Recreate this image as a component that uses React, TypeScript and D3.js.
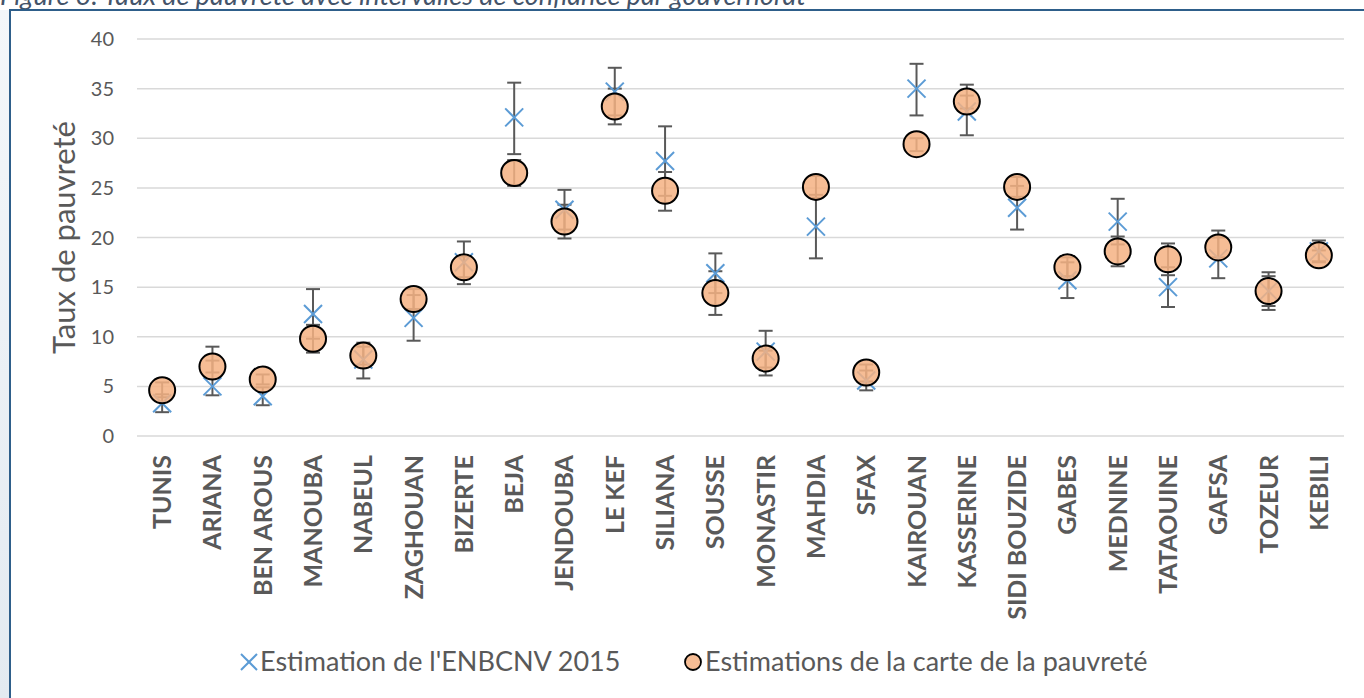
import React from 'react';
import * as d3 from 'd3';

const governorates = [
  'TUNIS', 'ARIANA', 'BEN AROUS', 'MANOUBA', 'NABEUL', 'ZAGHOUAN', 'BIZERTE', 'BEJA',
  'JENDOUBA', 'LE KEF', 'SILIANA', 'SOUSSE', 'MONASTIR', 'MAHDIA', 'SFAX', 'KAIROUAN',
  'KASSERINE', 'SIDI BOUZIDE', 'GABES', 'MEDNINE', 'TATAOUINE', 'GAFSA', 'TOZEUR', 'KEBILI',
];

// Estimation de l'ENBCNV 2015 + intervalle de confiance
const enbcnv = [3.3, 5.0, 4.0, 12.3, 7.7, 11.9, 17.5, 32.1, 22.8, 34.7, 27.7, 16.4, 8.5, 21.1, 5.6, 35.0, 32.7, 23.0, 15.7, 21.6, 15.0, 17.9, 14.6, 18.6];
const enbLow = [2.4, 4.1, 3.1, 9.8, 5.8, 9.6, 15.3, 28.4, 20.8, 32.3, 24.2, 14.4, 6.1, 17.9, 4.6, 32.3, 30.3, 20.8, 13.9, 19.3, 13.0, 15.9, 12.7, 17.5];
const enbHigh = [4.2, 9.0, 4.9, 14.8, 9.4, 14.2, 19.6, 35.6, 24.8, 37.1, 31.2, 18.4, 10.6, 24.3, 6.6, 37.5, 35.4, 25.2, 17.5, 23.9, 17.0, 20.7, 16.5, 19.7];

// Estimations de la carte de la pauvreté + intervalle de confiance
const carte = [4.6, 7.0, 5.7, 9.8, 8.1, 13.8, 17.0, 26.5, 21.6, 33.2, 24.7, 14.4, 7.8, 25.1, 6.4, 29.4, 33.7, 25.1, 17.0, 18.6, 17.8, 19.0, 14.6, 18.2];
const carteLow = [3.9, 6.4, 5.2, 8.4, 7.2, 12.8, 16.0, 25.2, 19.9, 31.4, 22.7, 12.2, 6.9, 24.0, 5.5, 28.7, 33.0, 24.1, 16.1, 17.1, 16.2, 18.0, 13.1, 17.6];
const carteHigh = [5.4, 7.6, 6.2, 11.2, 9.0, 14.8, 18.1, 27.8, 23.3, 35.0, 26.6, 16.6, 8.6, 26.2, 7.2, 30.0, 34.3, 26.1, 18.0, 20.1, 19.4, 20.0, 16.1, 18.7];

const yTicks = [0, 5, 10, 15, 20, 25, 30, 35, 40];

const W = 1364;
const H = 698;
const FONT = 'Lato, "Open Sans", sans-serif';
const GREY = '#595959';

const App = () => {
  const x = d3.scaleBand<string>().domain(governorates).range([137, 1344]).padding(0);
  const y = d3.scaleLinear().domain([0, 40]).range([436, 39]);
  const cx = (i: number) => (x(governorates[i]) || 0) + x.bandwidth() / 2;

  const cap = 7;
  const xs = 9;

  const errBar = (i: number, lo: number, hi: number, key: string) => (
    <g key={key} stroke="#595959" strokeWidth={2}>
      <line x1={cx(i)} x2={cx(i)} y1={y(lo)} y2={y(hi)} />
      <line x1={cx(i) - cap} x2={cx(i) + cap} y1={y(lo)} y2={y(lo)} />
      <line x1={cx(i) - cap} x2={cx(i) + cap} y1={y(hi)} y2={y(hi)} />
    </g>
  );

  const cross = (px: number, py: number, s: number, key: string) => (
    <g key={key} stroke="#5B9BD5" strokeWidth={2}>
      <line x1={px - s} y1={py - s} x2={px + s} y2={py + s} />
      <line x1={px - s} y1={py + s} x2={px + s} y2={py - s} />
    </g>
  );

  return (
    <svg
      width={W}
      height={H}
      style={{ position: 'absolute', left: 0, top: 0, background: '#fff' }}
      fontFamily={FONT}
    >
      <defs>
        <linearGradient id="side" x1="0" y1="0" x2="0" y2="1">
          <stop offset="0" stopColor="#f4f7fa" />
          <stop offset="1" stopColor="#e3eaf1" />
        </linearGradient>
      </defs>
      <rect x={0} y={10} width={9} height={H - 10} fill="url(#side)" />

      {/* caption, cut off at the top */}
      <text x={0} y={5} fontSize={27} fontStyle="italic" fill="#44546A">
        Figure 3: Taux de pauvreté avec intervalles de confiance par gouvernorat
      </text>

      {/* frame */}
      <line x1={9} x2={W} y1={10} y2={10} stroke="#2E5E8A" strokeWidth={2} />
      <line x1={10} x2={10} y1={10} y2={H} stroke="#2E5E8A" strokeWidth={2} />

      {/* grid + y ticks */}
      {yTicks.map((t) => (
        <g key={t}>
          <line x1={137} x2={1344} y1={y(t)} y2={y(t)} stroke="#d9d9d9" strokeWidth={1.5} />
          <text x={114} y={y(t)} dy="0.35em" textAnchor="end" fontSize={20} fill={GREY}>
            {t}
          </text>
        </g>
      ))}

      <text
        transform={`translate(75,${y(20)}) rotate(-90)`}
        textAnchor="middle"
        fontSize={31}
        fill={GREY}
      >
        Taux de pauvreté
      </text>

      {/* x labels */}
      {governorates.map((g, i) => (
        <text
          key={g}
          transform={`translate(${cx(i)},455) rotate(-90)`}
          textAnchor="end"
          dy="0.36em"
          fontSize={25}
          fontWeight="bold"
          fill={GREY}
        >
          {g}
        </text>
      ))}

      {/* error bars */}
      {governorates.map((g, i) => errBar(i, enbLow[i], enbHigh[i], 'e' + g))}
      {governorates.map((g, i) => errBar(i, carteLow[i], carteHigh[i], 'c' + g))}

      {/* ENBCNV markers */}
      {enbcnv.map((v, i) => cross(cx(i), y(v), xs, 'x' + i))}

      {/* carte markers */}
      {carte.map((v, i) => (
        <circle
          key={'o' + i}
          cx={cx(i)}
          cy={y(v)}
          r={13}
          fill="#F4B183"
          fillOpacity={0.85}
          stroke="#000"
          strokeWidth={2}
        />
      ))}

      {/* legend */}
      {cross(249, 662, 8, 'lg1')}
      <text x={260} y={662} dy="0.35em" fontSize={27} fill={GREY}>
        Estimation de l'ENBCNV 2015
      </text>
      <circle cx={693} cy={662} r={8} fill="#F4B183" fillOpacity={0.85} stroke="#000" strokeWidth={1.8} />
      <text x={705} y={662} dy="0.35em" fontSize={27} fill={GREY}>
        Estimations de la carte de la pauvreté
      </text>
    </svg>
  );
};

export default App;
